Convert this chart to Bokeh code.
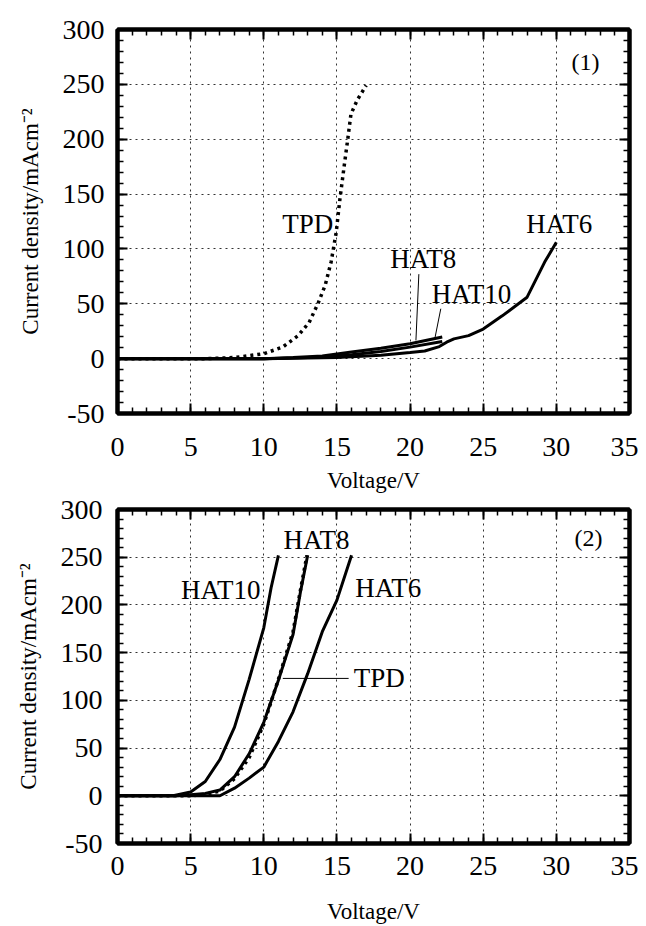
from bokeh.plotting import figure
from bokeh.layouts import column
from bokeh.models import Range1d, SingleIntervalTicker, LinearAxis, CustomJSTickFormatter
from bokeh.core.properties import value
from bokeh.embed import file_html
from bokeh.resources import INLINE

FONT = "Liberation Serif"

# ---------------- Panel (1) data ----------------
p1_tpd_v = [0, 6, 8, 10, 11.3, 12.35, 13.1, 13.7, 14.2, 14.6, 14.95, 15.2, 15.5, 15.74, 15.96, 16.4, 17.0]
p1_tpd_j = [0, 0, 1, 4.5, 10.6, 21, 33, 50, 67, 88, 115, 145, 176, 200, 223, 236, 249]
p1_hat6_v = [0, 10, 15, 18, 20, 21, 22, 22.5, 23, 24, 25, 26.3, 28, 29.2, 30]
p1_hat6_j = [0, 0, 1, 3, 5.5, 7, 11, 15, 18, 21, 27, 39, 56, 88, 106]
p1_hat8_v = [0, 10, 12, 14, 16, 18, 20, 22.2]
p1_hat8_j = [0, 0, 1, 2.5, 6, 9.5, 13.5, 19.7]
p1_hat10_v = [0, 10, 12, 14, 16, 18, 20, 22.2]
p1_hat10_j = [0, 0, 0.5, 1.5, 3.5, 6.5, 10.5, 15.7]

p1_labels = ["TPD", "HAT8", "HAT10", "HAT6"]
p1_label_v = [13.0, 20.9, 24.2, 30.2]
p1_label_j = [123, 91, 59, 123]
p1_leader_v = [[20.6, 20.4], [22.1, 21.7]]
p1_leader_j = [[77, 16.6], [45.5, 18.8]]

# ---------------- Panel (2) data ----------------
p2_hat10_v = [0, 3.8, 5, 6, 7, 8, 9, 10, 10.5, 11]
p2_hat10_j = [0, 0, 4, 15, 38, 72, 122, 176, 218, 252]
p2_hat8_v = [0, 4, 5, 6, 7, 8, 9, 10, 11, 12, 12.5, 13]
p2_hat8_j = [0, 0, 1, 2.5, 6, 20, 44, 77, 121, 169, 213, 252]
p2_tpd_v = [0, 5, 6, 7, 8, 9, 10, 11, 12, 12.5, 12.95]
p2_tpd_j = [0, 0, 1.5, 5, 18, 40, 75, 122, 172, 215, 252]
p2_hat6_v = [0, 7, 8, 9, 10, 11, 12, 13, 14, 15, 16]
p2_hat6_j = [0, 0, 8, 18.5, 30, 57, 88, 128, 172, 205, 252]

p2_labels = ["HAT8", "HAT10", "HAT6", "TPD"]
p2_label_v = [13.6, 7.05, 18.5, 17.9]
p2_label_j = [268, 216, 218, 123]
p2_leader_v = [[11.3, 15.8]]
p2_leader_j = [[123, 123]]

x_ticks_interval = 5
y_ticks_interval = 50
x_range = (0, 35)
y_range = (-50, 300)


def style_ticks(ax):
    ax.axis_line_color = "black"
    ax.axis_line_width = 4
    ax.major_tick_line_color = "black"
    ax.minor_tick_line_color = "black"
    ax.major_tick_in = 10
    ax.major_tick_out = 0
    ax.minor_tick_in = 6
    ax.minor_tick_out = 0
    ax.major_tick_line_width = 2
    ax.minor_tick_line_width = 1.5


def make_fig(width, height, left, right, top, bottom, xl_standoff, xlab_standoff, yl_standoff, ylab_standoff):
    p = figure(width=width, height=height, output_backend="svg", toolbar_location=None,
               x_range=Range1d(*x_range), y_range=Range1d(*y_range),
               min_border_left=left, min_border_right=right,
               min_border_top=top, min_border_bottom=bottom)
    p.outline_line_color = "black"
    p.outline_line_width = 4
    p.xaxis.ticker = SingleIntervalTicker(interval=x_ticks_interval, num_minor_ticks=5)
    p.yaxis.ticker = SingleIntervalTicker(interval=y_ticks_interval, num_minor_ticks=5)
    p.xgrid.ticker = SingleIntervalTicker(interval=x_ticks_interval)
    p.ygrid.ticker = SingleIntervalTicker(interval=y_ticks_interval)
    for g in (p.xgrid, p.ygrid):
        g.grid_line_color = "#333333"
        g.grid_line_dash = "2 4"
        g.grid_line_width = 1
    p.xaxis.formatter = CustomJSTickFormatter(code="return tick.toString()")
    p.yaxis.formatter = CustomJSTickFormatter(code="return tick.toString()")
    for ax in (p.xaxis, p.yaxis):
        style_ticks(ax)
        ax.major_label_text_font = FONT
        ax.major_label_text_font_size = "28px"
        ax.major_label_text_color = "black"
        ax.axis_label_text_font = FONT
        ax.axis_label_text_font_size = "23px"
        ax.axis_label_text_font_style = "normal"
        ax.axis_label_text_color = "black"
    p.xaxis.axis_label = "Voltage/V"
    p.yaxis.axis_label = "Current density/mAcm\u207b\u00b2"
    p.xaxis.major_label_standoff = xl_standoff
    p.xaxis.axis_label_standoff = xlab_standoff
    p.yaxis.major_label_standoff = yl_standoff
    p.yaxis.axis_label_standoff = ylab_standoff
    # mirrored ticks on top and right
    for loc, interval in (("above", x_ticks_interval), ("right", y_ticks_interval)):
        ax = LinearAxis(ticker=SingleIntervalTicker(interval=interval, num_minor_ticks=5),
                        formatter=CustomJSTickFormatter(code="return ''"))
        style_ticks(ax)
        ax.major_label_text_font_size = "1px"
        ax.major_label_standoff = 0
        p.add_layout(ax, loc)
    return p


def label_text(p, xs, ys, texts, size="27px"):
    p.text(x=xs, y=ys, text=texts, text_font=value(FONT), text_font_size=value(size),
           text_align="center", text_baseline="middle", text_color="black")


# Panel 1
p1 = make_fig(638, 495, 113, 9, 29, 80, 24, 9, 13, 17)
p1.line(p1_hat6_v, p1_hat6_j, line_color="black", line_width=3)
p1.line(p1_hat8_v, p1_hat8_j, line_color="black", line_width=3)
p1.line(p1_hat10_v, p1_hat10_j, line_color="black", line_width=3)
p1.line(p1_tpd_v, p1_tpd_j, line_color="black", line_width=3.5, line_dash="3 4")
p1.multi_line(p1_leader_v, p1_leader_j, line_color="black", line_width=1)
label_text(p1, p1_label_v, p1_label_j, p1_labels)
label_text(p1, [32.0], [270], ["(1)"], size="24px")

# Panel 2
p2 = make_fig(638, 431, 117, 5, 14, 71, 13, 21, 15, 17)
p2.line(p2_hat10_v, p2_hat10_j, line_color="black", line_width=3)
p2.line(p2_hat8_v, p2_hat8_j, line_color="black", line_width=3)
p2.line(p2_hat6_v, p2_hat6_j, line_color="black", line_width=3)
p2.line(p2_tpd_v, p2_tpd_j, line_color="black", line_width=3.5, line_dash="3 4")
p2.multi_line(p2_leader_v, p2_leader_j, line_color="black", line_width=1)
label_text(p2, p2_label_v, p2_label_j, p2_labels)
label_text(p2, [32.2], [270], ["(2)"], size="24px")

layout = column(p1, p2, spacing=0)
open("out.html", "w").write(file_html(layout, INLINE))
